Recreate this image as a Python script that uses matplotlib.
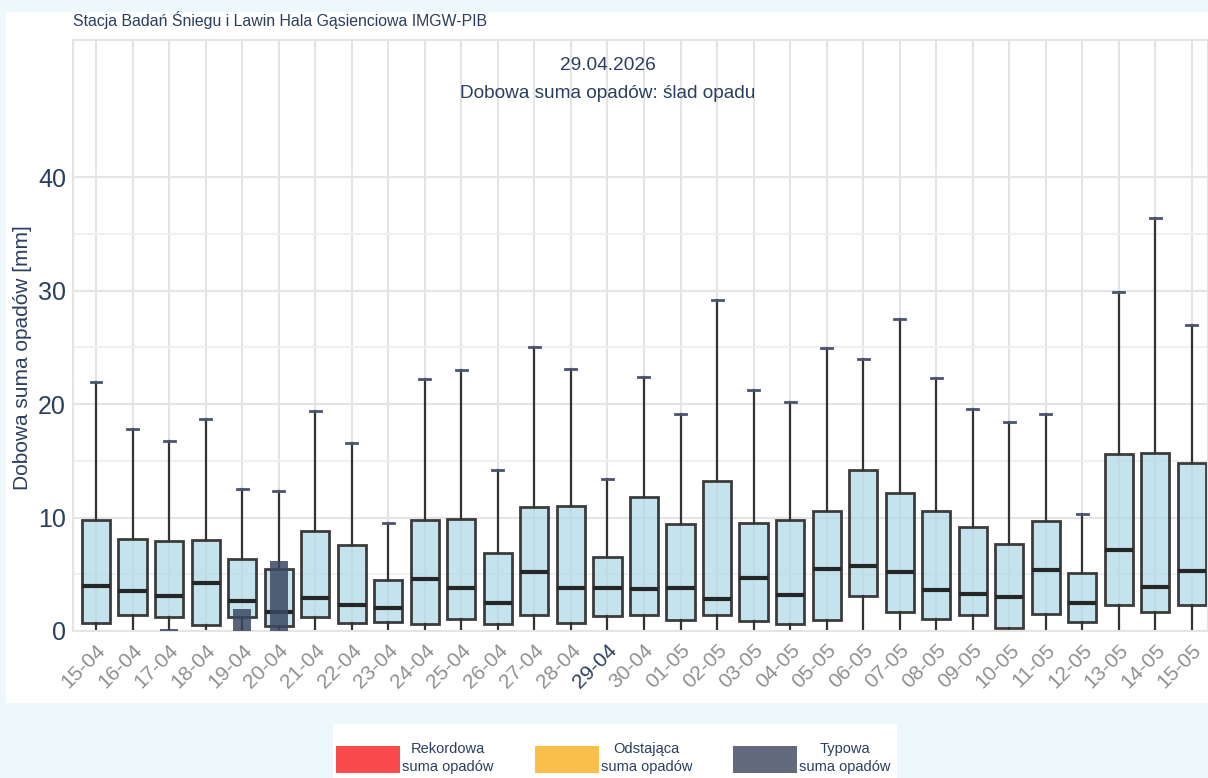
import numpy as np
import matplotlib.pyplot as plt
from matplotlib.patches import Rectangle

plt.rcParams['font.family'] = ['Liberation Sans', 'DejaVu Sans']

# dni w oknie +/- ok. 2 tygodnie wokół dnia bieżącego
dni = ['15-04', '16-04', '17-04', '18-04', '19-04', '20-04', '21-04', '22-04',
       '23-04', '24-04', '25-04', '26-04', '27-04', '28-04', '29-04', '30-04',
       '01-05', '02-05', '03-05', '04-05', '05-05', '06-05', '07-05', '08-05',
       '09-05', '10-05', '11-05', '12-05', '13-05', '14-05', '15-05']

# statystyki wieloletnie dobowej sumy opadów [mm]
wasy_gora = [21.9, 17.8, 16.7, 18.7, 12.5, 12.3, 19.4, 16.6, 9.5, 22.2, 23.0,
             14.2, 25.0, 23.1, 13.4, 22.4, 19.1, 29.2, 21.2, 20.2, 24.9, 24.0,
             27.5, 22.3, 19.6, 18.4, 19.1, 10.3, 29.9, 36.4, 27.0]
kwartyl3 = [9.8, 8.1, 7.9, 8.0, 6.3, 5.5, 8.8, 7.6, 4.5, 9.8, 9.9, 6.9, 10.9,
            11.0, 6.5, 11.8, 9.4, 13.2, 9.5, 9.8, 10.6, 14.2, 12.2, 10.6, 9.2,
            7.7, 9.7, 5.1, 15.6, 15.7, 14.8]
mediana = [4.0, 3.5, 3.1, 4.2, 2.6, 1.7, 2.9, 2.3, 2.0, 4.6, 3.8, 2.5, 5.2, 3.8,
           3.8, 3.7, 3.8, 2.8, 4.7, 3.2, 5.5, 5.7, 5.2, 3.6, 3.3, 3.0, 5.4, 2.5,
           7.1, 3.9, 5.3]
kwartyl1 = [0.7, 1.4, 1.2, 0.5, 1.2, 0.4, 1.2, 0.7, 0.8, 0.6, 1.1, 0.6, 1.4,
            0.7, 1.3, 1.4, 1.0, 1.4, 0.9, 0.6, 1.0, 3.1, 1.7, 1.1, 1.4, 0.3,
            1.5, 0.8, 2.3, 1.7, 2.3]
wasy_dol = [0.0] * len(dni)

# zmierzone sumy dobowe (typowe)
typowa_dni = ['17-04', '19-04', '20-04']
typowa_suma = [0.2, 1.9, 6.2]

dzien_biezacy = '29-04'
data_opis = '29.04.2026'
opis_opadu = 'Dobowa suma opadów: ślad opadu'

legenda_etykiety = ['Rekordowa\nsuma opadów', 'Odstająca\nsuma opadów',
                    'Typowa\nsuma opadów']
legenda_kolory = ['#f84a4c', '#f8bf4b', '#636a7e']

TEKST = '#2a3f5f'
SIATKA = '#e4e4e4'

W, H = 1208, 778
fig = plt.figure(figsize=(W / 100, H / 100), dpi=100, facecolor='#edf8fb')

def fx(px):
    return px / W

def fy(py):
    return 1 - py / H

# białe tło pod wykresem
fig.patches.append(Rectangle((fx(6), fy(703)), fx(1202), (703 - 12) / H,
                             transform=fig.transFigure, facecolor='white',
                             edgecolor='none', zorder=-5))

ax = fig.add_axes([fx(73), fy(631), fx(1135), (631 - 39.7) / H])
ax.set_zorder(2)
ax.set_facecolor('white')

x = np.arange(len(dni))
stats = []
for i in range(len(dni)):
    stats.append(dict(med=mediana[i], q1=kwartyl1[i], q3=kwartyl3[i],
                      whislo=wasy_dol[i], whishi=wasy_gora[i], fliers=[]))

ax.bxp(stats, positions=x, widths=0.77, patch_artist=True, showfliers=False,
       capwidths=0.3,
       boxprops=dict(facecolor=(173 / 255, 216 / 255, 230 / 255, 0.7),
                     edgecolor='#3c3c3c', linewidth=2),
       medianprops=dict(color='#262626', linewidth=3),
       whiskerprops=dict(color='#333333', linewidth=1.6),
       capprops=dict(color='#4a5470', linewidth=2),
       zorder=2)

typ_x = [dni.index(d) for d in typowa_dni]
ax.bar(typ_x, typowa_suma, width=0.5, color='#3b4862', alpha=0.85, zorder=3)

ax.set_xlim(-0.63, 30.44)
ax.set_ylim(0, 52.1)
ax.set_yticks([0, 10, 20, 30, 40])
ax.set_yticks([5, 15, 25, 35], minor=True)
ax.set_xticks(x)
ax.set_xticklabels(dni, rotation=45, ha='right', rotation_mode='anchor',
                   fontsize=15, color='#8f8f8f')
for lab in ax.get_xticklabels():
    if lab.get_text() == dzien_biezacy:
        lab.set_color(TEKST)
ax.tick_params(axis='both', which='both', length=0)
ax.tick_params(axis='x', pad=7)
ax.tick_params(axis='y', labelsize=18, labelcolor=TEKST, pad=5)

ax.grid(True, which='major', color=SIATKA, linewidth=1.5, zorder=0)
ax.grid(True, which='minor', axis='y', color='#f0f0f0', linewidth=1.5, zorder=0)
ax.set_axisbelow(True)
for s in ['left', 'top', 'right', 'bottom']:
    ax.spines[s].set_color(SIATKA)
    ax.spines[s].set_linewidth(1.5)

ax.set_ylabel('Dobowa suma opadów [mm]', fontsize=15, color=TEKST)
ax.yaxis.set_label_coords(-41 / 1135, 0.463)

fig.text(fx(73), fy(20), 'Stacja Badań Śniegu i Lawin Hala Gąsienciowa IMGW-PIB',
         fontsize=11.4, color=TEKST, ha='left', va='center')
fig.text(fx(608), fy(66), data_opis, fontsize=13.8, color=TEKST,
         ha='center', va='center')
fig.text(fx(608), fy(94), opis_opadu, fontsize=13.7, color=TEKST,
         ha='center', va='center')

# legenda pod wykresem
fig.patches.append(Rectangle((fx(333), 0), fx(564), (778 - 724) / H,
                             transform=fig.transFigure, facecolor='white',
                             edgecolor='none', zorder=1))
for k, (etyk, kol) in enumerate(zip(legenda_etykiety, legenda_kolory)):
    x0 = 336 + k * 198.5
    fig.patches.append(Rectangle((fx(x0), fy(773)), fx(64), 27 / H,
                                 transform=fig.transFigure, facecolor=kol,
                                 edgecolor='none', zorder=2))
    fig.text(fx(x0 + 112), fy(758), etyk, fontsize=10.5, color=TEKST,
             ha='center', va='center', linespacing=1.3, zorder=3)

fig.savefig('out.png', dpi=100, facecolor=fig.get_facecolor())
